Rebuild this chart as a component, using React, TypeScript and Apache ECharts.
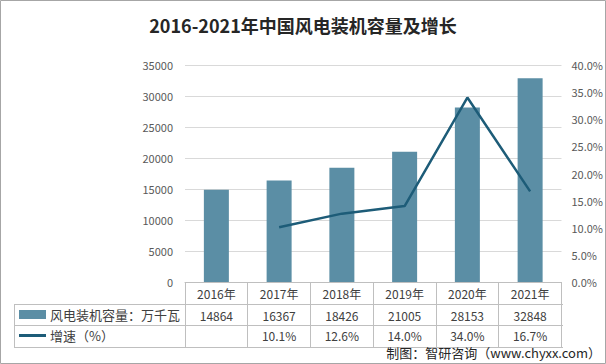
import React, { useEffect, useRef } from "react";
import * as echarts from "echarts";

const categories = ["2016年", "2017年", "2018年", "2019年", "2020年", "2021年"];
const capacity = [14864, 16367, 18426, 21005, 28153, 32848];
const growth: (number | null)[] = [null, 10.1, 12.6, 14.0, 34.0, 16.7];
const leftTicks = { min: 0, max: 35000, interval: 5000 };
const rightTicks = { min: 0, max: 40, interval: 5 };

const TEXT = "#404040";
const LINE = "#bfbfbf";

export default function App() {
  const ref = useRef<HTMLDivElement>(null);
  useEffect(() => {
    document.body.style.margin = "0";
    const chart = echarts.init(ref.current!, null, { renderer: "svg" });
    const font = "'Microsoft YaHei', 'Noto Sans CJK SC', sans-serif";
    chart.setOption({
      animation: false,
      textStyle: { fontFamily: font },
      title: {
        text: "2016-2021年中国风电装机容量及增长",
        left: "center",
        top: 11,
        textStyle: { fontSize: 18, fontWeight: "bold", color: "#262626", fontFamily: font },
      },
      legend: [
        {
          left: 19,
          top: 308,
          padding: 0,
          itemWidth: 27,
          itemHeight: 9,
          itemGap: 5,
          textStyle: { fontSize: 13, color: TEXT, padding: [0, 0, 0, -1] },
          data: [{ name: "风电装机容量：万千瓦", icon: "rect" }],
        },
        {
          left: 19,
          top: 329,
          padding: 0,
          itemWidth: 27,
          itemHeight: 3,
          textStyle: { fontSize: 13, color: TEXT, padding: [0, 0, 0, -1] },
          data: [{ name: "增速（%）", icon: "rect" }],
        },
      ],
      grid: { left: 185, right: 43, top: 65, bottom: 82 },
      xAxis: [
        {
          type: "category",
          data: categories,
          position: "bottom",
          axisLine: { show: true, lineStyle: { color: LINE } },
          axisTick: { show: true, length: 65, lineStyle: { color: LINE } },
          axisLabel: { margin: 5, fontSize: 12, color: TEXT },
        },
        {
          type: "category",
          data: capacity.map((v) => String(v)),
          position: "bottom",
          offset: 22,
          axisLine: { show: false },
          axisTick: { show: false },
          axisLabel: { margin: 5, fontSize: 12, color: TEXT },
        },
        {
          type: "category",
          data: growth.map((v) => (v == null ? "" : v.toFixed(1) + "%")),
          position: "bottom",
          offset: 43,
          axisLine: { show: false },
          axisTick: { show: false },
          axisLabel: { margin: 4, fontSize: 12, color: TEXT },
        },
      ],
      yAxis: [
        {
          type: "value",
          ...leftTicks,
          axisLine: { show: false },
          axisTick: { show: false },
          axisLabel: { margin: 12, fontSize: 11, color: "#595959", formatter: (v: number) => String(v) },
          splitLine: { lineStyle: { color: "#d9d9d9" } },
        },
        {
          type: "value",
          ...rightTicks,
          position: "right",
          axisLine: { show: false },
          axisTick: { show: false },
          axisLabel: {
            margin: 10,
            fontSize: 11,
            color: "#595959",
            formatter: (v: number) => v.toFixed(1) + "%",
          },
          splitLine: { show: false },
        },
      ],
      series: [
        {
          name: "风电装机容量：万千瓦",
          type: "bar",
          data: capacity,
          barWidth: 25,
          itemStyle: { color: "#5b8ea5" },
        },
        {
          name: "增速（%）",
          type: "line",
          yAxisIndex: 1,
          data: growth,
          symbol: "none",
          connectNulls: false,
          lineStyle: { color: "#1d5c78", width: 2.5 },
          itemStyle: { color: "#1d5c78" },
        },
      ],
      graphic: [
        {
          type: "rect",
          shape: { x: 0.5, y: 0.5, width: 605, height: 363 },
          style: { fill: "none", stroke: "#a6a6a6", lineWidth: 1 },
          silent: true,
        },
        { type: "line", shape: { x1: 14, y1: 304.5, x2: 563, y2: 304.5 }, style: { stroke: LINE, lineWidth: 1 } },
        { type: "line", shape: { x1: 14, y1: 325.5, x2: 563, y2: 325.5 }, style: { stroke: LINE, lineWidth: 1 } },
        { type: "line", shape: { x1: 14, y1: 347.5, x2: 563, y2: 347.5 }, style: { stroke: LINE, lineWidth: 1 } },
        { type: "line", shape: { x1: 14.5, y1: 304.5, x2: 14.5, y2: 347.5 }, style: { stroke: LINE, lineWidth: 1 } },
        {
          type: "text",
          right: 5,
          top: 346,
          style: {
            text: "制图：智研咨询（www.chyxx.com）",
            fontSize: 13,
            fill: "#262626",
            fontFamily: font,
          },
        },
      ],
    });
    return () => chart.dispose();
  }, []);
  return (
    <div
      ref={ref}
      style={{ position: "absolute", left: 0, top: 0, width: 606, height: 364, background: "#fff" }}
    />
  );
}
